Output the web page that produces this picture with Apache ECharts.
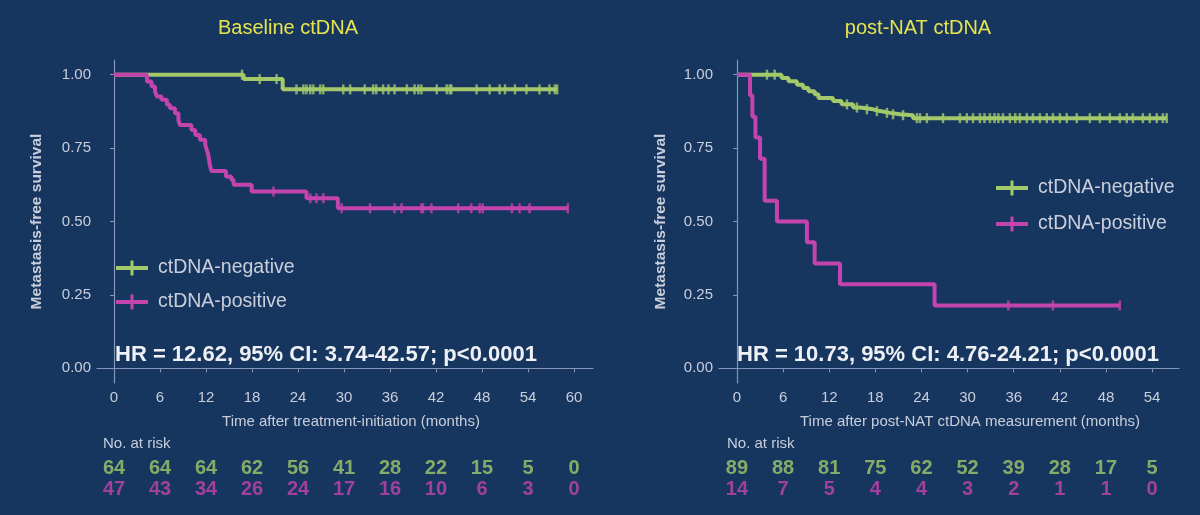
<!DOCTYPE html>
<html>
<head>
<meta charset="utf-8">
<script src="https://cdn.jsdelivr.net/npm/echarts@6/dist/echarts.min.js"></script>
<style>
  html, body { margin: 0; padding: 0; background: #16365f; }
  #main { width: 1200px; height: 515px; }
</style>
</head>
<body>
<div id="main"></div>
<script>
// --- data ---
// Kaplan-Meier steps as [month, survival]
const baseNegSteps = [[0, 1], [16.9, 0.985], [22.0, 0.95], [57.8, 0.95]];
const baseNegCensor = [16.7, 19.0, 21.2, 23.8, 24.7, 25.1, 25.6, 26.0, 26.9, 27.3, 29.9, 30.8, 32.7, 33.8, 34.2, 35.1,
  35.8, 36.6, 38.2, 39.2, 39.7, 40.1, 42.1, 43.4, 43.8, 44.0, 47.3, 49.0, 50.3, 51.0, 52.3, 53.8, 55.5, 56.8, 57.5, 57.8];
const basePosSteps = [[0, 1], [4.3, 0.977], [4.9, 0.96], [5.35, 0.943], [5.6, 0.926], [6.2, 0.915], [6.9, 0.898],
  [7.3, 0.886], [7.95, 0.869], [8.4, 0.846], [8.6, 0.829], [10.1, 0.812], [10.6, 0.795], [11.2, 0.778], [11.9, 0.761],
  [12.1, 0.744], [12.3, 0.727], [12.5, 0.693], [12.7, 0.672], [14.6, 0.653], [15.3, 0.642], [15.6, 0.625],
  [17.95, 0.602], [25.1, 0.579], [29.2, 0.545], [59.2, 0.545]];
const basePosCensor = [20.8, 25.6, 26.4, 27.3, 29.7, 33.4, 36.6, 37.5, 40.1, 40.3, 41.4, 44.9, 46.6, 47.7, 48.1,
  51.9, 52.9, 54.2, 59.2];

const postNegSteps = [[0, 1], [5.8, 0.989], [6.7, 0.978], [7.8, 0.966], [8.6, 0.955], [9.3, 0.944], [10.1, 0.933],
  [10.6, 0.921], [12.5, 0.91], [13.6, 0.899], [15.1, 0.888], [16.0, 0.882], [17.7, 0.876], [18.6, 0.87],
  [19.9, 0.865], [21.2, 0.862], [22.9, 0.852], [55.9, 0.852]];
const postNegCensor = [3.9, 4.9, 14.3, 15.6, 16.9, 18.2, 19.5, 20.3, 21.6, 23.4, 23.8, 24.7, 26.8, 29.0, 29.9, 30.7,
  31.6, 32.2, 32.9, 33.5, 34.0, 34.6, 35.5, 36.2, 36.8, 37.7, 38.5, 39.4, 40.3, 41.1, 42.0, 42.9, 44.2, 45.9, 47.2,
  48.5, 49.8, 50.7, 51.5, 52.8, 53.7, 54.6, 55.4, 55.9];
const postPosSteps = [[0, 1], [1.7, 0.929], [2.0, 0.857], [2.4, 0.786], [3.0, 0.714], [3.6, 0.571], [5.2, 0.5],
  [9.1, 0.429], [10.1, 0.357], [13.4, 0.286], [25.7, 0.214], [49.8, 0.214]];
const postPosCensor = [35.3, 41.1, 49.8];

// axis ticks and numbers at risk
const baseTicks = [0, 6, 12, 18, 24, 30, 36, 42, 48, 54, 60];
const baseRiskNeg = [64, 64, 64, 62, 56, 41, 28, 22, 15, 5, 0];
const baseRiskPos = [47, 43, 34, 26, 24, 17, 16, 10, 6, 3, 0];
const postTicks = [0, 6, 12, 18, 24, 30, 36, 42, 48, 54];
const postRiskNeg = [89, 88, 81, 75, 62, 52, 39, 28, 17, 5];
const postRiskPos = [14, 7, 5, 4, 4, 3, 2, 1, 1, 0];
const yTicks = [0, 0.25, 0.5, 0.75, 1];

const titles = ['Baseline ctDNA', 'post-NAT ctDNA'];
const xNames = ['Time after treatment-initiation (months)', 'Time after post-NAT ctDNA measurement (months)'];
const hrTexts = ['HR = 12.62, 95% CI: 3.74-42.57; p<0.0001', 'HR = 10.73, 95% CI: 4.76-24.21; p<0.0001'];
const names = ['ctDNA-negative', 'ctDNA-positive'];

// --- styling ---
const GREEN = '#a3c96b';
const MAGENTA = '#c444ad';
const AXIS = '#8497bb';
const TXT = '#c9cedb';
const FONT = '"Liberation Sans", Arial, sans-serif';
const ICON = 'path://M0,5.5L32,5.5L32,9.5L0,9.5Z M14.5,0L17.5,0L17.5,15L14.5,15Z';

// survival level at time t (for placing censor marks on the curve)
function levelAt(steps, t) {
  let v = steps[0][1];
  for (const s of steps) {
    if (s[0] <= t) v = s[1];
  }
  return v;
}

function xAxisFor(gridIndex, min, max, ticks, visible) {
  return {
    type: 'value', gridIndex: gridIndex, min: min, max: max, show: visible,
    splitLine: { show: false },
    axisLine: { show: true, lineStyle: { color: AXIS, width: 1.2 } },
    axisTick: { show: true, length: 4, lineStyle: { color: AXIS }, customValues: ticks },
    axisLabel: { color: TXT, fontSize: 15, fontFamily: FONT, margin: 7, customValues: ticks }
  };
}

function yAxisFor(gridIndex, nameGap) {
  return {
    type: 'value', gridIndex: gridIndex, min: -0.05, max: 1.05,
    name: 'Metastasis-free survival', nameLocation: 'middle', nameGap: nameGap,
    nameTextStyle: { color: TXT, fontSize: 15.5, fontWeight: 'bold', fontFamily: FONT },
    splitLine: { show: false },
    axisLine: { show: true, lineStyle: { color: AXIS, width: 1.2 } },
    axisTick: { show: true, length: 4, lineStyle: { color: AXIS }, customValues: yTicks },
    axisLabel: { color: TXT, fontSize: 15, fontFamily: FONT, margin: 6, customValues: yTicks,
      formatter: v => v.toFixed(2) }
  };
}

function kmSeries(name, idx, steps, censor, color, z) {
  return [{
    name: name, type: 'line', xAxisIndex: idx, yAxisIndex: idx, step: 'end',
    data: steps, showSymbol: false, z: z,
    lineStyle: { color: color, width: 4 }, itemStyle: { color: color }
  }, {
    name: name, type: 'scatter', xAxisIndex: idx, yAxisIndex: idx, z: z + 1,
    symbol: 'rect', symbolSize: [2.5, 10],
    data: censor.map(t => [t, levelAt(steps, t)]),
    itemStyle: { color: color }
  }];
}

function riskSeries(idx, ticks, counts, row, color) {
  return {
    type: 'scatter', xAxisIndex: idx, yAxisIndex: idx, symbolSize: 1,
    itemStyle: { color: 'rgba(0,0,0,0)' },
    data: ticks.map((t, i) => [t, row, counts[i]]),
    label: { show: true, position: 'inside', formatter: p => String(p.value[2]),
      color: color, fontSize: 20, fontWeight: 'bold', fontFamily: FONT }
  };
}

function legendFor(left, top, gap) {
  return {
    orient: 'vertical', left: left, top: top, padding: 0, itemWidth: 32, itemHeight: 15, itemGap: gap,
    icon: ICON, textStyle: { color: TXT, fontSize: 19.5, fontFamily: FONT, padding: [0, 0, 0, 5] },
    data: names
  };
}

function label(x, y, text, font, fill, align) {
  return { type: 'text', x: x, y: y,
    style: { text: text, font: font, fill: fill, textAlign: align, textVerticalAlign: 'middle' } };
}

const chart = echarts.init(document.getElementById('main'), null, { renderer: 'canvas' });

const option = {
  backgroundColor: '#16365f',
  animation: false,
  grid: [
    { left: 97, top: 60, width: 496, height: 323 },
    { left: 719, top: 60, width: 460, height: 323 },
    { left: 97, top: 458, width: 496, height: 42 },
    { left: 719, top: 458, width: 460, height: 42 }
  ],
  xAxis: [
    xAxisFor(0, -2.22, 62.48, baseTicks, true),
    xAxisFor(1, -2.34, 57.5, postTicks, true),
    xAxisFor(2, -2.22, 62.48, baseTicks, false),
    xAxisFor(3, -2.34, 57.5, postTicks, false)
  ],
  yAxis: [
    yAxisFor(0, 52),
    yAxisFor(1, 50),
    { type: 'value', gridIndex: 2, min: 0, max: 2, show: false },
    { type: 'value', gridIndex: 3, min: 0, max: 2, show: false }
  ],
  legend: [legendFor(116, 258, 14), legendFor(996, 178, 16)],
  series: [
    ...kmSeries(names[0], 0, baseNegSteps, baseNegCensor, GREEN, 2),
    ...kmSeries(names[1], 0, basePosSteps, basePosCensor, MAGENTA, 4),
    ...kmSeries(names[0], 1, postNegSteps, postNegCensor, GREEN, 2),
    ...kmSeries(names[1], 1, postPosSteps, postPosCensor, MAGENTA, 4),
    riskSeries(2, baseTicks, baseRiskNeg, 1.5, GREEN),
    riskSeries(2, baseTicks, baseRiskPos, 0.5, MAGENTA),
    riskSeries(3, postTicks, postRiskNeg, 1.5, GREEN),
    riskSeries(3, postTicks, postRiskPos, 0.5, MAGENTA)
  ],
  graphic: [
    label(288, 28, titles[0], '20px ' + FONT, '#e5e44e', 'center'),
    label(918, 28, titles[1], '20px ' + FONT, '#e5e44e', 'center'),
    label(115, 355, hrTexts[0], 'bold 22px ' + FONT, '#eef0f5', 'left'),
    label(737, 355, hrTexts[1], 'bold 22px ' + FONT, '#eef0f5', 'left'),
    label(351, 422, xNames[0], '15px ' + FONT, TXT, 'center'),
    label(970, 422, xNames[1], '15px ' + FONT, TXT, 'center'),
    label(103, 444, 'No. at risk', '15px ' + FONT, TXT, 'left'),
    label(727, 444, 'No. at risk', '15px ' + FONT, TXT, 'left')
  ]
};

chart.setOption(option);
</script>
</body>
</html>
